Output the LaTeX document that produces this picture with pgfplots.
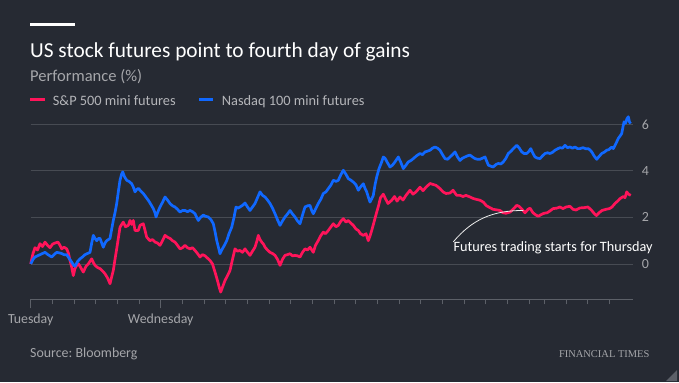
\documentclass[border=0pt]{standalone}
\usepackage{pgfplots}
\pgfplotsset{compat=1.18}
\usepackage{fontspec}
\setmainfont{Carlito}
\newfontfamily\ftfont{Liberation Serif}
\frenchspacing
\definecolor{bg}{HTML}{262A33}
\definecolor{gridc}{HTML}{474B53}
\definecolor{axisc}{HTML}{5C6068}
\definecolor{txtgray}{HTML}{A5A6AA}
\definecolor{leggray}{HTML}{B4B5B9}
\definecolor{spred}{HTML}{FF145A}
\definecolor{ndblue}{HTML}{1068FF}

\pgfplotstableread{
x y
30.7 0.0
33 0.45
35 0.7
37.5 0.6
40 0.87
42.5 0.75
45 0.94
47.5 0.8
50 0.7
52.5 0.85
55 0.9
58 0.94
60 0.8
61.7 0.65
64 0.72
66.7 0.65
68.5 0.45
70 0.15
71.5 -0.1
73.3 -0.5
75 -0.2
76.7 -0.06
78.5 0.0
80 -0.1
83.3 -0.35
86 -0.1
88.3 0.0
91.7 0.22
93.5 0.05
95 -0.06
97.5 -0.15
100 -0.2
102.5 -0.3
105 -0.42
107.5 -0.6
110 -0.85
111.7 -0.55
113.3 -0.28
115 0.2
116.7 0.65
118.3 1.1
120 1.58
121.7 1.7
123.3 1.8
125.5 1.6
128.3 1.66
130 1.87
131.7 1.7
133.3 1.87
135 1.44
138.3 1.44
140 1.66
143.3 1.73
145 1.45
146.7 1.15
150 1.0
152.5 1.05
155 0.94
157.5 0.9
160 0.8
162.5 1.0
165 1.23
167.5 1.15
170 1.1
172.5 1.0
175 0.94
177.5 0.8
180 0.65
182.5 0.7
185 0.8
187.5 0.7
190 0.65
192.5 0.7
195 0.58
197.5 0.45
200 0.3
202.5 0.4
205 0.35
207.5 0.25
210 0.15
212.5 0.0
215 -0.35
216.7 -0.6
218.3 -0.85
219.5 -1.05
220.7 -1.21
222.5 -1.0
225 -0.71
227.5 -0.5
230 -0.28
232.5 0.2
235 0.65
237.5 0.55
240 0.58
242.5 0.5
245 0.65
247.5 0.5
250 0.37
252.5 0.55
255 0.72
257 1.0
258.3 1.23
260 1.05
261.7 0.94
263.5 0.85
265 0.72
267.5 0.6
270 0.5
272.5 0.45
275 0.37
277.5 0.2
280 -0.06
282.5 0.2
285 0.37
287.5 0.4
290 0.44
292.5 0.35
295 0.37
297.5 0.35
300 0.3
302.5 0.5
305 0.65
307.5 0.6
310 0.72
313.3 0.5
315.5 0.8
318.3 1.01
320.5 1.2
323.3 1.37
325.5 1.3
328.3 1.44
331 1.6
333.3 1.73
336 1.6
338.3 1.66
341 1.85
343.3 1.95
346 1.8
348.3 1.87
351 1.75
353.3 1.66
356 1.5
358.3 1.44
360.5 1.3
363.3 1.23
366 1.3
368.3 1.0
370 1.2
371.7 1.44
374 1.8
376.7 2.23
378.5 2.5
380.5 2.85
383.3 3.0
385.5 2.8
388 2.6
391.7 2.74
394.5 2.9
397 2.7
400 2.88
403 2.75
406 2.95
410 3.17
413 3.0
416 3.1
420 3.3
423 3.15
426 3.3
430 3.46
433 3.42
436 3.38
440 3.24
443 3.1
446 3.03
450 3.05
453 3.17
456.7 2.95
460 2.95
463 2.9
466 2.95
470 2.88
473 2.82
476 2.78
480 2.74
483.3 2.66
486.5 2.5
490 2.42
493 2.35
496 2.33
500 2.3
503 2.2
506 2.18
510 2.23
513 2.35
516.7 2.52
519 2.48
522 2.35
525 2.2
528 2.35
530 2.4
533 2.2
536 2.1
538.3 2.05
541 2.12
544 2.18
547 2.2
550 2.28
553 2.38
556.7 2.4
560 2.45
563 2.38
566 2.45
570 2.48
573 2.35
576 2.32
580 2.41
584 2.42
588 2.45
591.7 2.3
594 2.18
596.5 2.08
599 2.2
602 2.3
606 2.35
609.5 2.38
612 2.45
615 2.6
618 2.72
620 2.81
623.3 2.9
625 2.85
626.7 3.1
628.5 3.0
630.7 2.95
}\spdata

\pgfplotstableread{
x y
30.7 0.0
33 0.2
35 0.3
37.5 0.35
40 0.4
42.5 0.45
45 0.5
48 0.4
51.7 0.3
54 0.4
56.7 0.5
59 0.48
61.7 0.45
64 0.4
66.7 0.4
69 0.25
71.7 0.08
73.5 -0.05
75 -0.1
77.5 0.1
80 0.22
82.5 0.3
85 0.4
87.5 0.45
90 0.5
91.7 0.9
93.3 1.23
95 1.1
96.7 1.0
98.5 1.1
100 1.1
101.7 0.9
103.3 0.72
105 0.9
106.7 1.0
108.5 1.05
110 1.1
111.7 1.5
113.3 1.87
115 2.2
116.7 2.6
118.3 3.1
120 3.6
121.5 3.85
122.7 3.96
124.5 3.75
126.7 3.6
129 3.55
131.7 3.45
133.3 3.31
135 3.1
136.7 3.2
138.3 3.25
140.5 3.15
143.3 3.03
145.5 2.9
148.3 2.74
151 2.55
153.3 2.38
155 2.2
156 2.02
158 2.25
160 2.45
162.5 2.65
165 2.88
167.5 2.75
170 2.6
172.5 2.5
175 2.45
177.5 2.35
180 2.23
182.5 2.3
185 2.3
187.5 2.25
190 2.3
192.5 2.25
195 2.16
196.7 2.0
198.3 1.87
200.5 2.0
203.3 2.1
205.5 2.05
208.3 2.02
211 1.9
213.3 1.73
215 1.4
216.7 1.01
218.5 0.7
220 0.44
221.7 0.6
223.3 0.72
225 0.85
226.7 1.0
229 1.3
231.7 1.58
234 2.0
236 2.45
238 2.4
240 2.45
242.5 2.52
245 2.62
247.5 2.45
250 2.3
252.5 2.45
255 2.6
257.5 2.85
260 3.1
262.5 2.95
265 2.88
267.5 2.75
270 2.6
272.5 2.4
275 2.16
277.5 1.9
280 1.66
282.5 1.85
285 2.02
287.5 2.15
290 2.3
292.5 2.15
295 2.02
297.5 1.85
300 1.73
302.5 2.1
305 2.45
307.5 2.5
310 2.52
311.7 2.3
313.3 2.16
316 2.4
318.3 2.6
321 2.8
323.3 3.03
326 3.1
328.3 3.24
331 3.4
333.3 3.6
336 3.55
338.3 3.6
341 3.85
343.3 4.03
346 3.85
348.3 3.67
351 3.6
353.3 3.52
356 3.4
358.3 3.17
360.5 3.31
363.3 3.45
365 3.25
366.7 3.1
368.5 2.85
370 2.66
371.7 2.8
373.3 2.95
375 3.4
376.7 3.74
379 4.1
381.7 4.39
383.3 4.6
385 4.55
387.5 4.35
390 4.17
392.5 4.25
395 4.39
398.3 4.6
401 4.35
403.3 4.1
406 4.25
408.3 4.39
411 4.45
413.3 4.53
416.5 4.65
420 4.75
422.5 4.7
425 4.82
427.5 4.85
430 4.89
432.5 4.98
435 5.03
437.5 4.98
440 4.89
442.5 4.7
445 4.53
447.5 4.5
450 4.6
452.5 4.7
455 4.82
457.5 4.6
460 4.45
462.5 4.55
465 4.6
467.5 4.65
470 4.68
472.5 4.6
475 4.53
477.5 4.5
480 4.5
482.5 4.55
485 4.6
488.3 4.25
491 4.2
493.3 4.17
496 4.28
498.3 4.32
501 4.3
503.3 4.39
506 4.55
508.3 4.75
511 4.85
513.3 4.96
516.7 5.1
519 5.0
521.7 4.82
524 4.75
526.7 4.75
529 4.85
530.7 4.96
533 4.75
535 4.6
537.5 4.55
540 4.53
542.5 4.65
545 4.75
547.5 4.78
550 4.75
552.5 4.8
555 4.89
557.5 4.95
560 5.0
562.5 4.98
565 5.1
567.5 5.0
570 5.03
572.5 4.98
575 5.03
577.5 4.96
580 4.96
583 5.0
586 4.95
588.3 4.96
590 4.9
591.7 4.82
594 4.65
596.7 4.5
599 4.62
601.7 4.75
604 4.8
606.7 4.89
609 4.92
611.7 5.03
613.3 4.96
615 5.1
616.7 5.25
618.3 5.4
620 5.5
621.7 5.61
623 5.9
624 6.11
625.5 6.05
627 6.25
628.3 6.33
629.5 6.1
630.7 6.04
}\nddata

\begin{document}
\begin{tikzpicture}[x=1bp,y=1bp]
\fill[bg] (0,0) rectangle (679,382);
\fill[white] (30,356.3) rectangle (75,359.3);
\node[anchor=base west, inner sep=0, text=white, font=\fontsize{21.4}{24}\selectfont] at (30,324.7) {US stock futures point to fourth day of gains};
\node[anchor=base west, inner sep=0, text=txtgray, font=\fontsize{16.6}{19}\selectfont] at (30,300.8) {Performance (\%)};
\draw[spred, line width=3bp] (30,283) -- (45,283);
\node[anchor=base west, inner sep=0, text=leggray, font=\fontsize{14.4}{17}\selectfont] at (52.7,276.3) {S\&P 500 mini futures};
\draw[ndblue, line width=3bp] (199,283) -- (213.3,283);
\node[anchor=base west, inner sep=0, text=leggray, font=\fontsize{14.4}{17}\selectfont] at (221.7,276.3) {Nasdaq 100 mini futures};
\node[anchor=base west, inner sep=0, text=txtgray, font=\fontsize{13.95}{16}\selectfont] at (30,25) {Source: Bloomberg};
\node[anchor=base east, inner sep=0, text=txtgray, font=\ftfont\fontsize{10.5}{12}\selectfont] at (649.6,24.5) {FINANCIAL TIMES};
\fill[axisc] (666,1) -- (677,1) -- (677,12) -- cycle;

\begin{axis}[
  at={(30.7bp,82.7bp)}, anchor=south west,
  scale only axis, width=602bp, height=186.5bp,
  xmin=30.7, xmax=632.7, ymin=-1.52, ymax=6.5,
  clip=false,
  axis y line*=right, axis x line*=bottom,
  y axis line style={draw=none},
  x axis line style={draw=axisc, line width=0.9bp, -},
  ytick={0,2,4,6},
  ymajorgrids, grid style={draw=gridc, line width=0.9bp},
  ytick style={draw=none},
  yticklabel style={anchor=west, inner sep=0, xshift=9bp, text=txtgray, font=\fontsize{14}{16}\selectfont},
  /pgf/number format/assume math mode=true,
  xtick={52.4,74.0,95.7,117.4,139.0,182.4,204.0,225.7,247.4,269.0,290.7,312.4,334.0,355.7,377.4,399.0,420.7,442.4,464.0,485.7,507.4,529.0,544.3,566.0,587.7,609.3},
  xticklabels={},
  xtick align=outside,
  major tick length=5bp,
  x tick style={draw=axisc, line width=0.9bp},
  extra x ticks={30.7,160.7},
  extra x tick labels={Tuesday,Wednesday},
  extra x tick style={major tick length=9bp, xticklabel style={anchor=north, inner sep=0, yshift=-5bp, text=txtgray, font=\fontsize{13.9}{16}\selectfont}},
]
\addplot[spred, line width=2.7bp, line join=round, no markers] table[x=x,y=y] {\spdata};
\addplot[ndblue, line width=2.7bp, line join=round, no markers] table[x=x,y=y] {\nddata};
\draw[white!85!gray, line width=0.8bp] (axis cs:453.3,0.95) to[out=50,in=180] (axis cs:523.3,2.3);
\node[anchor=base west, inner sep=0, text=white, font=\fontsize{14.3}{16}\selectfont] at (axis cs:453.3,0.53) {Futures trading starts for Thursday};
\end{axis}
\pgfresetboundingbox
\path (0,0) rectangle (679,382);
\end{tikzpicture}
\end{document}
